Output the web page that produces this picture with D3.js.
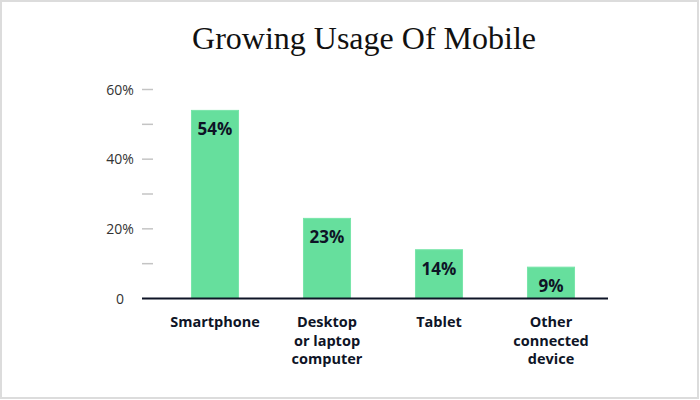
<!DOCTYPE html>
<html><head><meta charset="utf-8">
<script src="https://cdn.jsdelivr.net/npm/d3@7"></script>
<style>body{margin:0;background:#fff}svg{display:block}</style>
</head><body><svg id="c" width="700" height="400"></svg>
<script>
const categories = [["Smartphone"], ["Desktop","or laptop","computer"], ["Tablet"], ["Other","connected","device"]];
const values = [54, 23, 14, 9];
const valueLabels = ["54%", "23%", "14%", "9%"];
const tickValues = [0, 10, 20, 30, 40, 50, 60];
const tickLabels = {0: "0", 20: "20%", 40: "40%", 60: "60%"};
const title = "Growing Usage Of Mobile";

const svg = d3.select("#c");
const ink = "#0e1426";
svg.append("rect").attr("x",1).attr("y",1).attr("width",697).attr("height",397)
  .attr("fill","#fff").attr("stroke","#dcdcdc").attr("stroke-width",2);

svg.append("text").attr("x",364).attr("y",49).attr("text-anchor","middle")
  .attr("font-family","'Liberation Serif', serif").attr("font-size",32).attr("fill","#111")
  .text(title);

const y = d3.scaleLinear().domain([0,60]).range([298.5, 89.5]);
const x = d3.scaleBand().domain(d3.range(values.length)).range([159, 607]).paddingInner(0.58).paddingOuter(0.29);

// ticks
const yAxis = svg.append("g");
yAxis.selectAll("line.t").data(tickValues.filter(d=>d>0)).join("line")
  .attr("x1",142).attr("x2",153).attr("y1",d=>y(d)).attr("y2",d=>y(d))
  .attr("stroke","#c4c4c4").attr("stroke-width",1.5);
yAxis.selectAll("text").data(tickValues.filter(d=>tickLabels[d]!==undefined)).join("text")
  .attr("x",120).attr("y",d=>y(d)+5).attr("text-anchor","middle")
  .attr("font-family","'Open Sans', sans-serif").attr("font-size",14).attr("fill","#333")
  .text(d=>tickLabels[d]);

// bars
svg.selectAll("rect.bar").data(values).join("rect").attr("class","bar")
  .attr("x",(d,i)=>x(i)).attr("width",x.bandwidth())
  .attr("y",d=>y(d)).attr("height",d=>y(0)-y(d))
  .attr("fill","#66df9d").attr("stroke","#78e5aa").attr("stroke-width",1);

svg.selectAll("text.vl").data(values).join("text").attr("class","vl")
  .attr("x",(d,i)=>x(i)+x.bandwidth()/2).attr("y",d=>y(d)+25)
  .attr("text-anchor","middle").attr("font-family","'Open Sans', sans-serif")
  .attr("font-weight","bold").attr("font-size",17).attr("fill",ink)
  .text((d,i)=>valueLabels[i]);

// axis line
svg.append("line").attr("x1",142).attr("x2",608).attr("y1",y(0)).attr("y2",y(0))
  .attr("stroke",ink).attr("stroke-width",2.2);

// category labels
const cl = svg.selectAll("text.cl").data(categories).join("text").attr("class","cl")
  .attr("text-anchor","middle").attr("font-family","'Open Sans', sans-serif")
  .attr("font-weight","bold").attr("font-size",14.5).attr("fill",ink);
cl.selectAll("tspan").data((d,i)=>d.map(s=>({s,i}))).join("tspan")
  .attr("x",d=>x(d.i)+x.bandwidth()/2).attr("y",(d,j)=>327+j*18.5).text(d=>d.s);
</script></body></html>
